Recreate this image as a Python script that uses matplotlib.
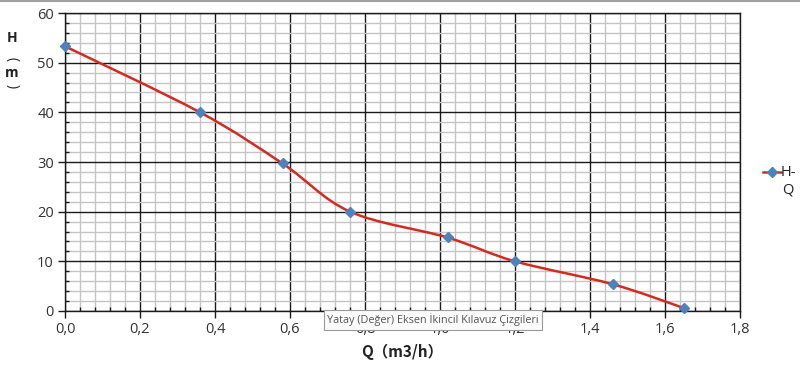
import matplotlib.pyplot as plt
from matplotlib.path import Path
from matplotlib.patches import PathPatch
from matplotlib.lines import Line2D
import numpy as np

# pump curve data
q_vals = [0.0, 0.36, 0.58, 0.76, 1.02, 1.20, 1.46, 1.65]
h_vals = [53.3, 40.0, 29.7, 20.0, 14.8, 10.0, 5.4, 0.6]

x_ticks = [0.0, 0.2, 0.4, 0.6, 0.8, 1.0, 1.2, 1.4, 1.6, 1.8]
x_labels = ["0,0", "0,2", "0,4", "0,6", "0,8", "1,0", "1,2", "1,4", "1,6", "1,8"]
y_ticks = [0, 10, 20, 30, 40, 50, 60]

LINE = "#d42a20"
MARK = "#4f81bd"

plt.rcParams['font.family'] = ['Open Sans', 'DejaVu Sans']

fig = plt.figure(figsize=(8, 3.72), dpi=100)
ax = fig.add_axes([65 / 800, 1 - 311 / 372, 675 / 800, 298 / 372])

ax.set_xlim(0, 1.8)
ax.set_ylim(0, 60)
ax.set_xticks(x_ticks)
ax.set_xticklabels(x_labels)
ax.set_yticks(y_ticks)
ax.set_xticks(np.arange(0, 1.8001, 0.04), minor=True)
ax.set_yticks(np.arange(0, 60.001, 2), minor=True)

ax.grid(which='minor', color='#c4c4c4', linewidth=1.0)
ax.grid(which='major', color='#1a1a1a', linewidth=1.0)
ax.set_axisbelow(True)
ax.tick_params(which='major', direction='out', length=5, width=1, color='#1a1a1a',
               labelsize=10.5, labelcolor='#333333', pad=3)
ax.tick_params(which='minor', direction='in', length=3, width=1, color='#1a1a1a')
for s in ax.spines.values():
    s.set_color('#1a1a1a')
    s.set_linewidth(1.0)

# smooth line like the spreadsheet (catmull-rom bezier through the points)
pts = list(zip(q_vals, h_vals))
verts = [pts[0]]
codes = [Path.MOVETO]
n = len(pts)
for i in range(n - 1):
    p0 = pts[i - 1] if i > 0 else pts[i]
    p1 = pts[i]
    p2 = pts[i + 1]
    p3 = pts[i + 2] if i + 2 < n else pts[i + 1]
    c1 = (p1[0] + (p2[0] - p0[0]) / 6, p1[1] + (p2[1] - p0[1]) / 6)
    c2 = (p2[0] - (p3[0] - p1[0]) / 6, p2[1] - (p3[1] - p1[1]) / 6)
    verts += [c1, c2, p2]
    codes += [Path.CURVE4] * 3
ax.add_patch(PathPatch(Path(verts, codes), facecolor='none', edgecolor=LINE,
                       linewidth=1.8, zorder=3, clip_on=False))
ax.plot(q_vals, h_vals, linestyle='none', marker='D', markersize=5,
        color=MARK, zorder=4, clip_on=False)

# axis titles
ax.set_xlabel("Q（m3/h）", fontsize=11, fontweight='bold', color='#222222',
              family=['Noto Sans CJK SC', 'DejaVu Sans'], labelpad=5)
fig.text(12 / 800, 1 - 38 / 372, "H", fontsize=10, fontweight='bold',
         ha='center', va='center', color='#222222')
fig.text(12 / 800, 1 - 59 / 372, "(", fontsize=10, rotation=-90,
         ha='center', va='center', color='#222222')
fig.text(12 / 800, 1 - 73 / 372, "m", fontsize=10, fontweight='bold',
         ha='center', va='center', color='#222222')
fig.text(12 / 800, 1 - 86 / 372, ")", fontsize=10, rotation=-90,
         ha='center', va='center', color='#222222')

# legend
fig.add_artist(Line2D([763 / 800, 781 / 800], [1 - 172 / 372, 1 - 172 / 372],
                      color=LINE, linewidth=1.8))
fig.add_artist(Line2D([772 / 800], [1 - 172 / 372], marker='D', markersize=5,
                      color=MARK, linestyle='none'))
fig.text(781 / 800, 1 - 172 / 372, "H-", fontsize=10.5, va='center', color='#222222')
fig.text(782 / 800, 1 - 190 / 372, "Q", fontsize=10.5, va='center', color='#222222')

# tooltip left in the screenshot
fig.text(327 / 800, 1 - 320 / 372, "Yatay (Değer) Eksen İkincil Kılavuz Çizgileri",
         fontsize=7.8, va='center', color='#555555',
         bbox=dict(boxstyle='square,pad=0.3', facecolor='#fbfbfb', edgecolor='#9a9a9a',
                   linewidth=0.8))

# thin gray frame line at the top of the screenshot
fig.add_artist(Line2D([0, 1], [1 - 1 / 372, 1 - 1 / 372], color='#a0a0a0', linewidth=1.5))

fig.savefig("out.png", dpi=100)
